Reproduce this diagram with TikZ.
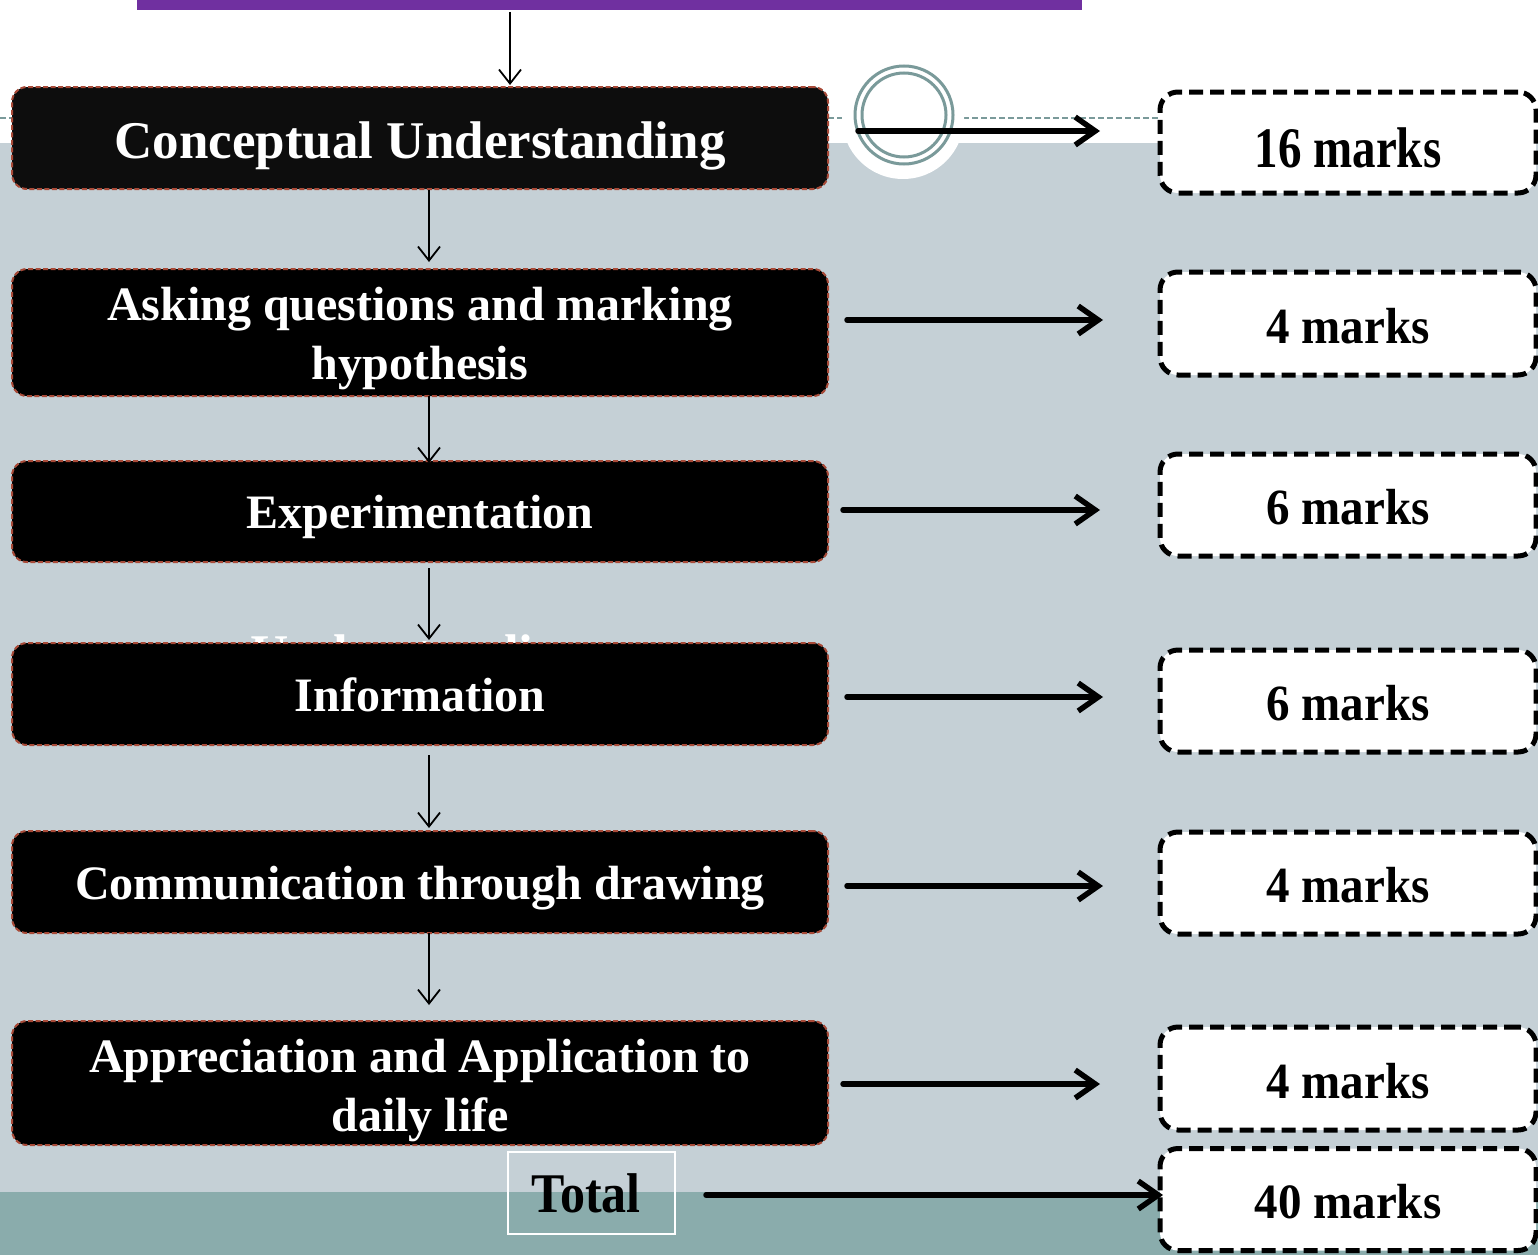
\documentclass[tikz,border=0pt]{standalone}
\usepackage{fontspec}
\usepackage{graphicx}
\setmainfont{Liberation Serif}
\usetikzlibrary{arrows.meta,calc}
\definecolor{bgA}{HTML}{C5D0D6}
\definecolor{bgB}{HTML}{8AACAC}
\definecolor{ringc}{HTML}{7A9A9A}
\definecolor{purp}{HTML}{7030A0}
\definecolor{brd}{HTML}{A84A38}
\definecolor{nearblack}{HTML}{0D0D0D}
% put the baseline of #2 at #1 below the node centre
\newcommand\lift[2]{\raisebox{-#1}[0pt][0pt]{#2}}
\newcommand\twolines[2]{\begin{tabular}[t]{@{}c@{}}#1\\#2\end{tabular}}
\begin{document}
\begin{tikzpicture}[x=1pt,y=-1pt,
  leftbox/.style={draw=brd, line width=2pt, dash pattern=on 5pt off 2.5pt, fill=black,
    rounded corners=15pt, minimum width=816pt, inner sep=0pt, outer sep=0pt, text=white,
    font=\fontsize{48}{59}\selectfont\bfseries},
  rightbox/.style={draw=black, line width=5pt, dash pattern=on 14pt off 7pt, fill=white,
    rounded corners=18pt, minimum width=376pt, minimum height=102pt, inner sep=0pt, outer sep=0pt,
    font=\fontsize{47}{56}\selectfont\bfseries},
  thinarrow/.style={line width=1.8pt, -{Straight Barb[length=14pt,width=22pt]}},
  thickarrow/.style={line width=5.5pt, line cap=round, -{Straight Barb[length=20pt,width=28pt]}}
]
\useasboundingbox (0,0) rectangle (1538,1255);
% background
\fill[white] (0,0) rectangle (1538,1255);
\fill[bgA] (0,143) rectangle (1538,1192);
\fill[bgB] (0,1192) rectangle (1538,1255);
\draw[ringc, line width=1.3pt, dash pattern=on 6pt off 3pt] (0,118) -- (1538,118);
\fill[white] (903,118) circle[radius=61pt];
\draw[ringc, line width=3pt] (904,115) circle[radius=49pt];
\draw[ringc, line width=3pt] (904,115) circle[radius=42pt];
% purple bar
\node[fill=purp, minimum width=945pt, minimum height=10pt, inner sep=0pt, outer sep=0pt] (bar) at (609.5,5) {};
% ghost text behind box 4
\node[text=white, font=\fontsize{53}{60}\selectfont\bfseries, anchor=base, inner sep=0pt] (ghost) at (420,671) {Understanding};
% left boxes
\node[leftbox, fill=nearblack, minimum height=102pt, font=\fontsize{53}{60}\selectfont\bfseries] (L1) at (420,138)
  {\lift{20pt}{Conceptual Understanding}};
\node[leftbox, minimum height=127pt] (L2) at (420,332.5)
  {\lift{-12.5pt}{\twolines{Asking questions and marking}{hypothesis}}};
\node[leftbox, minimum height=101pt] (L3) at (420,511.5) {\lift{17pt}{Experimentation}};
\node[leftbox, minimum height=102pt] (L4) at (420,694) {\lift{17pt}{Information}};
\node[leftbox, minimum height=102pt] (L5) at (420,882) {\lift{17pt}{Communication through drawing}};
\node[leftbox, minimum height=124pt] (L6) at (420,1083)
  {\lift{-11pt}{\twolines{Appreciation and Application to}{daily life}}};
% total
\node[draw=white, line width=1.5pt, minimum width=167pt, minimum height=82pt, inner sep=0pt, outer sep=0pt,
  font=\fontsize{50}{58}\selectfont\bfseries] (T) at (591.5,1193) {\lift{19pt}{\kern-11pt\scalebox{1}[1.12]{Total}}};
% right boxes
\node[rightbox, minimum height=101pt] (R1) at (1348,142.5) {\lift{24.5pt}{\scalebox{1}[1.22]{16 marks}}};
\node[rightbox, minimum height=103pt] (R2) at (1348,323.5) {\lift{19.5pt}{\scalebox{1}[1.08]{4 marks}}};
\node[rightbox] (R3) at (1348,505) {\lift{19.5pt}{\scalebox{1}[1.08]{6 marks}}};
\node[rightbox] (R4) at (1348,701) {\lift{19.5pt}{\scalebox{1}[1.08]{6 marks}}};
\node[rightbox] (R5) at (1348,883) {\lift{19.5pt}{\scalebox{1}[1.08]{4 marks}}};
\node[rightbox, minimum height=103pt] (R6) at (1348,1078.5) {\lift{19.5pt}{\scalebox{1}[1.08]{4 marks}}};
\node[rightbox, minimum height=102pt] (R7) at (1348,1199.5) {\lift{18.5pt}{\scalebox{1}[1.05]{40 marks}}};
% vertical arrows
\draw[thinarrow] ($(bar.south)+(-99.5,2)$) -- ($(L1.north)+(90,-2)$);
\draw[thinarrow] ($(L1.south)+(9,1)$) -- ($(L2.north)+(9,-7)$);
\draw[thinarrow] ($(L2.south)+(9,0)$) -- ($(L3.north)+(9,2)$);
\draw[thinarrow] ($(L3.south)+(9,6)$) -- ($(L4.north)+(9,-3)$);
\draw[thinarrow] ($(L4.south)+(9,10)$) -- ($(L5.north)+(9,-3)$);
\draw[thinarrow] ($(L5.south)+(9,0)$) -- ($(L6.north)+(9,-16)$);
% horizontal arrows
\draw[thickarrow] ($(L1.east)+(30,-7)$) -- ($(R1.west |- L1.east)+(-60,-7)$);
\draw[thickarrow] ($(L2.east)+(19,-12.5)$) -- ($(R2.west |- L2.east)+(-57,-12.5)$);
\draw[thickarrow] ($(L3.east)+(15,-1.5)$) -- ($(R3.west |- L3.east)+(-60,-1.5)$);
\draw[thickarrow] ($(L4.east)+(19,3)$) -- ($(R4.west |- L4.east)+(-57,3)$);
\draw[thickarrow] ($(L5.east)+(19,4)$) -- ($(R5.west |- L5.east)+(-57,4)$);
\draw[thickarrow] ($(L6.east)+(15,1)$) -- ($(R6.west |- L6.east)+(-60,1)$);
\draw[thickarrow] ($(T.east)+(31,2)$) -- ($(R7.west |- T.east)+(3,2)$);
\end{tikzpicture}
\end{document}
